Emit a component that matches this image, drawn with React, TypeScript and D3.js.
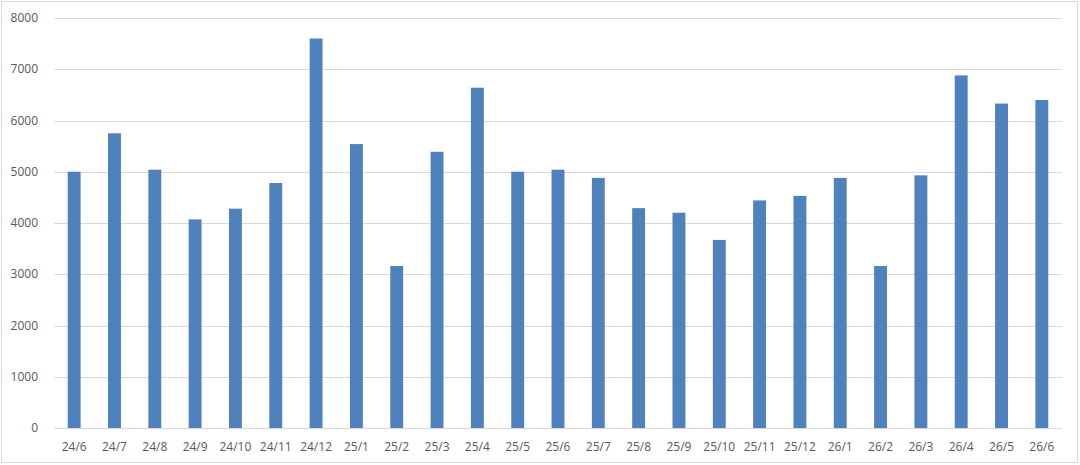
import React, { useEffect, useRef } from "react";
import * as d3 from "d3";

const months = [
  "24/6", "24/7", "24/8", "24/9", "24/10", "24/11", "24/12",
  "25/1", "25/2", "25/3", "25/4", "25/5", "25/6", "25/7", "25/8", "25/9", "25/10", "25/11", "25/12",
  "26/1", "26/2", "26/3", "26/4", "26/5", "26/6",
];
const values = [
  5000, 5750, 5040, 4070, 4280, 4780, 7600,
  5540, 3160, 5390, 6640, 5000, 5040, 4880, 4290, 4200, 3670, 4440, 4530,
  4880, 3160, 4930, 6880, 6330, 6400,
];
const yTicks = [0, 1000, 2000, 3000, 4000, 5000, 6000, 7000, 8000];

const width = 1080;
const height = 465;

const App: React.FC = () => {
  const svgRef = useRef<SVGSVGElement | null>(null);

  useEffect(() => {
    const svg = d3.select(svgRef.current);
    svg.selectAll("*").remove();

    const margin = { top: 18, right: 18, bottom: 37, left: 54 };
    const innerWidth = width - margin.left - margin.right;
    const innerHeight = height - margin.top - margin.bottom;

    // outer frame
    svg
      .append("rect")
      .attr("x", 1.5)
      .attr("y", 1.5)
      .attr("width", width - 4)
      .attr("height", height - 4)
      .attr("fill", "#fff")
      .attr("stroke", "#d9d9d9")
      .attr("stroke-width", 1);

    const x = d3.scaleBand().domain(months).range([0, innerWidth]).paddingInner(0.68).paddingOuter(0.34);
    const y = d3.scaleLinear().domain([0, 8000]).range([innerHeight, 0]);

    const chart = svg.append("g").attr("transform", `translate(${margin.left},${margin.top})`);

    // gridlines
    chart
      .append("g")
      .selectAll("line")
      .data(yTicks)
      .join("line")
      .attr("x1", 0)
      .attr("x2", innerWidth)
      .attr("y1", d => Math.round(y(d)) + 0.5)
      .attr("y2", d => Math.round(y(d)) + 0.5)
      .attr("stroke", "#d9d9d9")
      .attr("stroke-width", 1);

    // y labels
    chart
      .append("g")
      .selectAll("text")
      .data(yTicks)
      .join("text")
      .attr("x", -16)
      .attr("y", d => y(d))
      .attr("dy", "0.35em")
      .attr("text-anchor", "end")
      .attr("fill", "#595959")
      .attr("font-size", 12)
      .attr("font-family", "'Open Sans', 'Liberation Sans', sans-serif")
      .text(d => String(d));

    // bars
    chart
      .append("g")
      .selectAll("rect")
      .data(values)
      .join("rect")
      .attr("x", (_, i) => x(months[i]) || 0)
      .attr("y", d => y(d))
      .attr("width", x.bandwidth())
      .attr("height", d => innerHeight - y(d))
      .attr("fill", "#4f81bd");

    // x labels
    chart
      .append("g")
      .selectAll("text")
      .data(months)
      .join("text")
      .attr("x", d => (x(d) || 0) + x.bandwidth() / 2)
      .attr("y", innerHeight + 23)
      .attr("text-anchor", "middle")
      .attr("fill", "#595959")
      .attr("font-size", 12)
      .attr("font-family", "'Open Sans', 'Liberation Sans', sans-serif")
      .text(d => d);
  }, []);

  return (
    <svg
      ref={svgRef}
      width={width}
      height={height}
      style={{ position: "absolute", left: 0, top: 0, display: "block" }}
    ></svg>
  );
};

export default App;
